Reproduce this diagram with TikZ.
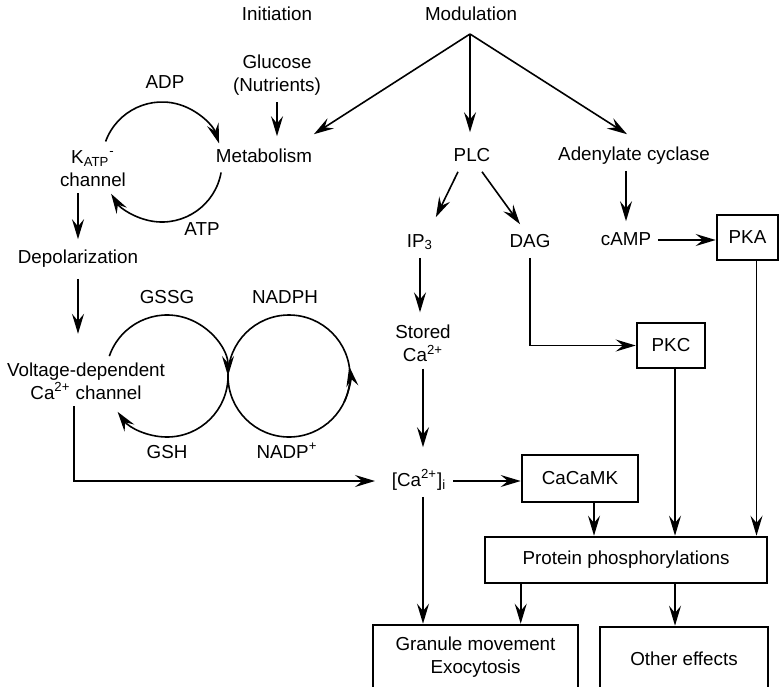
\documentclass[tikz,border=0pt]{standalone}
\usepackage{fontspec}
\setmainfont{Liberation Sans}
\usetikzlibrary{arrows.meta}
\tikzset{
  lbl/.style={font=\fontsize{9.4}{11.5}\selectfont,inner sep=3pt,text height=7pt,text depth=2pt},
  lbl2/.style={font=\fontsize{9.4}{11.5}\selectfont,inner sep=3pt,align=center},
  kbox/.style={draw,line width=1.3pt,font=\fontsize{9.4}{11.5}\selectfont,inner sep=0pt,align=center},
  arr/.style={-{Stealth[length=10pt,width=6pt,inset=3.6pt]},line width=0.8pt},
}

\begin{document}
\begin{tikzpicture}[x=0.5pt,y=0.5pt,line width=0.8pt]
        \useasboundingbox (0,0) rectangle (780,-686);
        \clip (0,0) rectangle (780,-686);
        % headings
        \node[lbl] (init) at (277,-15) {Initiation};
        \node[lbl] (modul) at (471,-15) {Modulation};
        \coordinate (apex) at (470,-34);
        % initiation side
        \node[lbl2] (gluc) at (277,-75.4) {Glucose\\(Nutrients)};
        \node[lbl] (metab) at (264,-157) {Metabolism};
        \node[lbl2] (katp) at (93,-168.5) {K\textsubscript{ATP}\textsuperscript{-}\\channel};
        \node[lbl] (adp) at (165,-83) {ADP};
        \node[lbl] (atp) at (202,-230) {ATP};
        \node[lbl] (depol) at (78,-258) {Depolarization};
        \node[lbl2] (vdcc) at (86,-381) {Voltage-dependent\\Ca\textsuperscript{2+} channel};
        \node[lbl] (gssg) at (167,-298) {GSSG};
        \node[lbl] (nadph) at (285,-298) {NADPH};
        \node[lbl] (gsh) at (167,-453) {GSH};
        \node[lbl] (nadp) at (287,-453) {NADP\textsuperscript{+}};
        % modulation side
        \node[lbl] (plc) at (472,-156) {PLC};
        \node[lbl] (adcyc) at (634,-155) {Adenylate cyclase};
        \node[lbl] (ip3) at (420,-242) {IP\textsubscript{3}};
        \node[lbl] (dag) at (530,-242) {DAG};
        \node[lbl] (camp) at (626,-240) {cAMP};
        \node[kbox,minimum width=30.5pt,minimum height=22.5pt] (pka) at (747.5,-237.5) {PKA};
        \node[lbl2] (stored) at (423,-343.5) {Stored\\Ca\textsuperscript{2+}};
        \node[kbox,minimum width=34pt,minimum height=22.5pt] (pkc) at (671,-345.5) {PKC};
        \node[lbl] (cai) at (419,-481) {[Ca\textsuperscript{2+}]\textsubscript{i}};
        \node[kbox,minimum width=58pt,minimum height=23.5pt] (cacamk) at (580,-478.5) {CaCaMK};
        \node[kbox,minimum width=141pt,minimum height=23pt] (prot) at (626,-560) {Protein phosphorylations};
        \node[kbox,minimum width=102.5pt,minimum height=32pt] (granule) at (475.5,-657) {Granule movement\\Exocytosis};
        \node[kbox,minimum width=84pt,minimum height=31.5pt] (other) at (684,-658.5) {Other effects};
        % cycles
        \coordinate (katpc) at (162,-162);
        \coordinate (gsc) at (167,-376);
        \coordinate (nadc) at (289,-376);
        \draw[arr] ([shift={(160:60)}]katpc) arc[start angle=160,end angle=18,radius=60];
        \draw[arr] ([shift={(-10:60)}]katpc) arc[start angle=-10,end angle=-148,radius=60];
        \draw[arr] ([shift={(161:61)}]gsc) arc[start angle=161,end angle=0,radius=61];
        \draw[arr] ([shift={(0:61)}]gsc) arc[start angle=0,end angle=-144,radius=61];
        \draw (nadc) circle[radius=61];
        \draw[arr] ([shift={(-25:61)}]nadc) arc[start angle=-25,end angle=9,radius=61];
        % modulation fan
        \draw[arr] (apex) -- ([shift={(-5,7)}]metab.north east);
        \draw[arr,shorten >=4pt] (apex) -- (apex |- plc.north);
        \draw[arr] (apex) -- ([shift={(-7,5)}]adcyc.north);
        \draw[arr,shorten >=2.5pt] (gluc.south) -- (gluc.south |- metab.north);
        % left chain
        \draw[arr,shorten >=1.5pt] (katp.south -| depol.north) -- (depol.north);
        \draw[arr,shorten <=2.5pt,shorten >=11pt] (depol.south) -- (depol.south |- vdcc.north);
        \draw[arr,shorten >=5pt] ([xshift=-6]vdcc.south) |- (cai.west);
        % PLC branch
        \draw[arr] ([xshift=-7]plc.south) -- ([shift={(-4,9)}]ip3.north east);
        \draw[arr] ([xshift=5]plc.south) -- ([shift={(-10,2)}]dag.north);
        \draw[arr,shorten >=3pt] (ip3.south) -- (ip3.south |- stored.north);
        \draw[arr,shorten >=9pt] (stored.south) -- (stored.south |- cai.north);
        \draw[arr] (stored.south |- cai.south) -- (stored.south |- granule.north);
        \draw[arr] (cai.east) -- (cai.east -| cacamk.west);
        \draw[arr] (dag.south) |- (pkc.west);
        % cAMP branch
        \draw[arr,shorten >=1.5pt] (camp.north |- adcyc.south) -- (camp.north);
        \draw[arr] (camp.east) -- (camp.east -| pka.west);
        % kinases
        \draw[arr] ([xshift=4.5]pka.south) -- ([xshift=4.5]pka.south |- prot.north);
        \draw[arr] ([xshift=2]pkc.south) -- ([xshift=2]pkc.south |- prot.north);
        \draw[arr] ([xshift=7]cacamk.south) -- ([xshift=7]cacamk.south |- prot.north);
        \draw[arr] (prot.south -| cacamk.west) -- (granule.north -| cacamk.west);
        \draw[arr] ([xshift=2]pkc.south |- prot.south) -- ([xshift=2]pkc.south |- other.north);
      \end{tikzpicture}
\end{document}
